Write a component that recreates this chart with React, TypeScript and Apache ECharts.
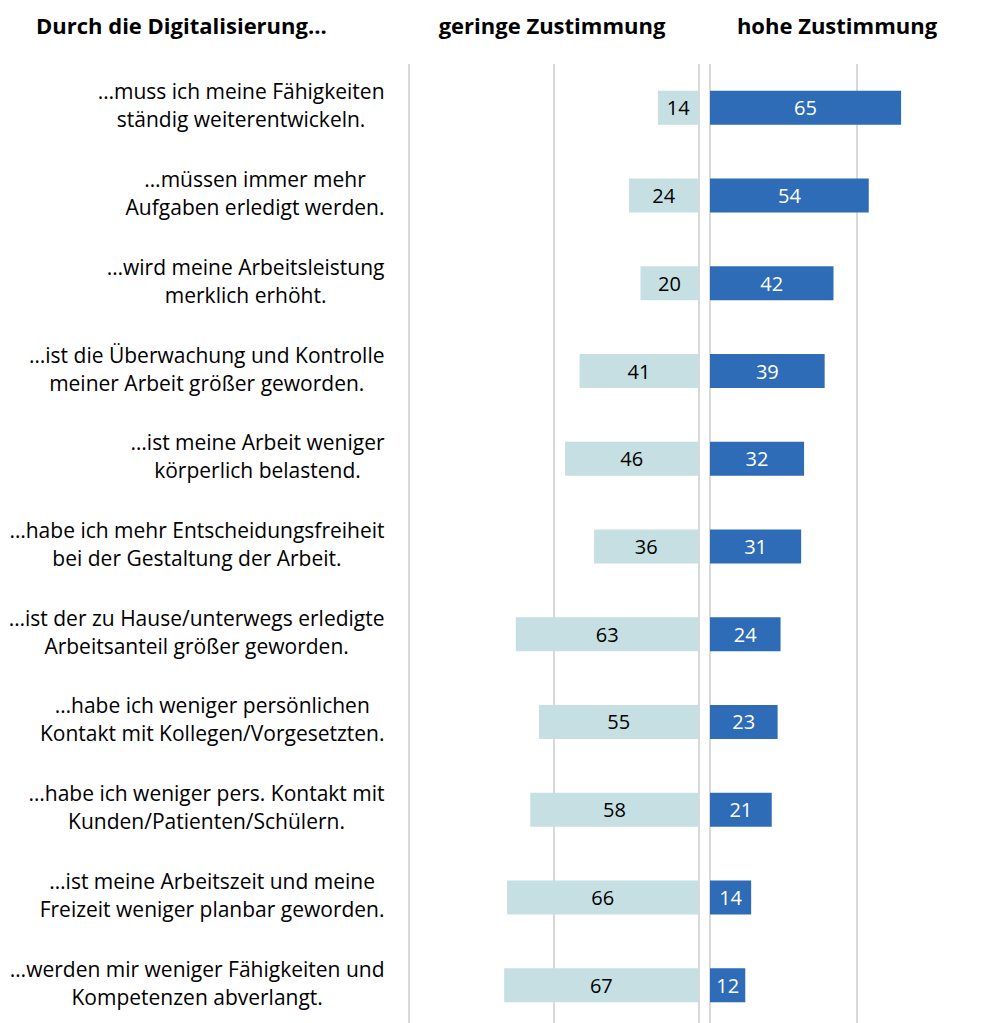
import React, { useEffect, useRef } from "react";
import * as echarts from "echarts";

const categories: string[] = [
  "…muss ich meine Fähigkeiten\nständig weiterentwickeln.",
  "…müssen immer mehr\nAufgaben erledigt werden.",
  "…wird meine Arbeitsleistung\nmerklich erhöht.",
  "…ist die Überwachung und Kontrolle\nmeiner Arbeit größer geworden.",
  "…ist meine Arbeit weniger\nkörperlich belastend.",
  "…habe ich mehr Entscheidungsfreiheit\nbei der Gestaltung der Arbeit.",
  "…ist der zu Hause/unterwegs erledigte\nArbeitsanteil größer geworden.",
  "…habe ich weniger persönlichen\nKontakt mit Kollegen/Vorgesetzten.",
  "…habe ich weniger pers. Kontakt mit\nKunden/Patienten/Schülern.",
  "…ist meine Arbeitszeit und meine\nFreizeit weniger planbar geworden.",
  "…werden mir weniger Fähigkeiten und\nKompetenzen abverlangt.",
];
const geringe: number[] = [14, 24, 20, 41, 46, 36, 63, 55, 58, 66, 67];
const hohe: number[] = [65, 54, 42, 39, 32, 31, 24, 23, 21, 14, 12];

const headerLeft = "Durch die Digitalisierung...";
const headerMid = "geringe Zustimmung";
const headerRight = "hohe Zustimmung";

const FONT = "'Open Sans', sans-serif";

export default function App() {
  const ref = useRef<HTMLDivElement>(null);
  useEffect(() => {
    if (!ref.current) return;
    const chart = echarts.init(ref.current, null, { renderer: "svg" });
    const split = { show: true, lineStyle: { color: "#d9d9d9", width: 2 } };
    chart.setOption({
      animation: false,
      backgroundColor: "#ffffff",
      grid: [
        { left: 408.5, top: 64, width: 290, height: 965, outerBoundsMode: "none" },
        { left: 710, top: 64, width: 294, height: 965, outerBoundsMode: "none" },
      ],
      xAxis: [
        {
          type: "value", gridIndex: 0, inverse: true, min: 0, max: 100, interval: 50,
          axisLabel: { show: false }, axisLine: { show: false }, axisTick: { show: false },
          splitLine: split,
        },
        {
          type: "value", gridIndex: 1, min: 0, max: 100, interval: 50,
          axisLabel: { show: false }, axisLine: { show: false }, axisTick: { show: false },
          splitLine: split,
        },
      ],
      yAxis: [
        {
          type: "category", gridIndex: 0, inverse: true, data: categories,
          axisLine: { show: false }, axisTick: { show: false },
          axisLabel: {
            margin: 24,
            align: "right",
            padding: [0, 0, 5, 0],
            formatter: (v: string) => v.split("\n").map((l) => `{a|${l}}`).join("\n"),
            rich: {
              a: { align: "center", fontSize: 21, lineHeight: 28, fontFamily: FONT, color: "#000" },
            },
          },
        },
        {
          type: "category", gridIndex: 1, inverse: true, data: categories,
          axisLine: { show: false }, axisTick: { show: false }, axisLabel: { show: false },
        },
      ],
      series: [
        {
          type: "bar", xAxisIndex: 0, yAxisIndex: 0, data: geringe, barWidth: 34,
          itemStyle: { color: "#c5dfe3" },
          label: { show: true, position: "inside", color: "#000", fontSize: 20, fontFamily: FONT },
        },
        {
          type: "bar", xAxisIndex: 1, yAxisIndex: 1, data: hohe, barWidth: 34,
          itemStyle: { color: "#2e6cb8" },
          label: { show: true, position: "inside", color: "#fff", fontSize: 20, fontFamily: FONT },
        },
      ],
      graphic: [
        {
          type: "text", x: 36, y: 25,
          style: { text: headerLeft, font: `bold 22px ${FONT}`, fill: "#000", align: "left", verticalAlign: "middle" },
        },
        {
          type: "text", x: 552, y: 25,
          style: { text: headerMid, font: `bold 22px ${FONT}`, fill: "#000", align: "center", verticalAlign: "middle" },
        },
        {
          type: "text", x: 837, y: 25,
          style: { text: headerRight, font: `bold 22px ${FONT}`, fill: "#000", align: "center", verticalAlign: "middle" },
        },
      ],
    });
    return () => chart.dispose();
  }, []);
  return (
    <div
      ref={ref}
      style={{ position: "absolute", left: 0, top: 0, width: 991, height: 1023 }}
    />
  );
}
